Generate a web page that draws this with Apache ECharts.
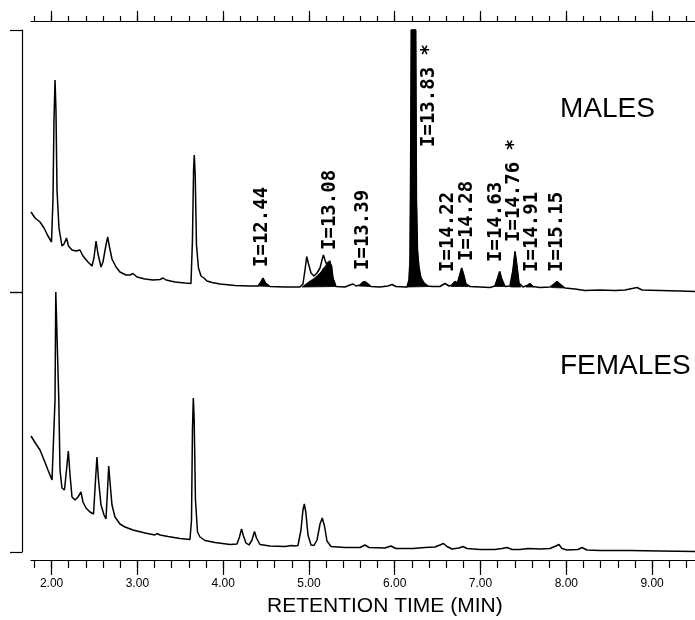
<!DOCTYPE html>
<html>
<head>
<meta charset="utf-8">
<script src="https://cdn.jsdelivr.net/npm/echarts@6/dist/echarts.min.js"></script>
<style>html,body{margin:0;padding:0;background:#fff;}#chart{width:695px;height:620px;}</style>
</head>
<body>
<div id="chart"></div>
<script>
// ---- data (retention time in min, detector response in arbitrary units) ----
const majorTicks = [2, 3, 4, 5, 6, 7, 8, 9];
const minorTicks = [1.8, 2.0, 2.2, 2.4, 2.6, 2.8, 3.0, 3.2, 3.4, 3.6, 3.8, 4.0, 4.2, 4.4, 4.6, 4.8, 5.0, 5.2, 5.4, 5.6, 5.8, 6.0, 6.2, 6.4, 6.6, 6.8, 7.0, 7.2, 7.4, 7.6, 7.8, 8.0, 8.2, 8.4, 8.6, 8.8, 9.0, 9.2, 9.4];

const maleTime = [1.760,1.807,1.865,1.912,1.958,1.999,2.016,2.028,2.040,2.051,2.063,2.086,2.121,2.145,2.174,2.197,2.238,2.285,2.331,2.366,2.424,2.471,2.494,2.518,2.541,2.576,2.599,2.634,2.654,2.675,2.704,2.751,2.797,2.867,2.914,2.949,2.996,3.089,3.182,3.264,3.299,3.334,3.438,3.555,3.625,3.642,3.655,3.663,3.674,3.689,3.712,3.742,3.776,3.811,3.870,3.963,4.138,4.313,4.406,4.441,4.464,4.493,4.546,4.721,4.895,4.930,4.954,4.974,4.995,5.024,5.059,5.094,5.129,5.152,5.169,5.187,5.204,5.228,5.245,5.263,5.280,5.315,5.420,5.478,5.513,5.548,5.595,5.630,5.653,5.676,5.723,5.828,5.921,5.968,6.014,6.119,6.143,6.166,6.178,6.183,6.189,6.193,6.244,6.248,6.253,6.265,6.283,6.306,6.341,6.387,6.434,6.527,6.586,6.632,6.667,6.702,6.731,6.755,6.780,6.801,6.830,6.877,6.994,7.110,7.168,7.203,7.223,7.244,7.285,7.343,7.378,7.402,7.425,7.448,7.495,7.541,7.576,7.611,7.693,7.809,7.856,7.891,7.926,7.984,8.101,8.217,8.392,8.567,8.684,8.824,8.882,9.092,9.325,9.500];
const maleSignal = [80,74,70,64,56,50,92,172,212,182,102,64,46,48,54,46,42,41,42,36,30,26,34,51,38,25,30,47,55,45,33,25,20,17,17,18.5,15,13,12,12.5,14,12,10,9,8.5,52,122,137,117,47,24,16,14,11,9.5,8,6.5,6,6,10,14,9,5.5,5,5,8,22,35.5,28,19,16,19,24,32,37,32,28,30,31.5,26,14,5.5,5,7,8,6,7,10,11,9,5.5,5,6,7.5,5.5,5,5,12,32,92,192,262,262,192,92,42,24,14,9,6,5.5,5.5,8.5,6,7,10.5,9,16,24,18,8,5.5,5,4.5,6,15,20.5,14,5.5,6,22,40.5,26,9,5,6.5,8.5,5.5,4.5,5,8,10.5,8,4,3,1.5,2,1.5,2,4.5,2,1.5,1,0.5];

const femaleTime = [1.760,1.818,1.865,1.912,1.958,2.005,2.022,2.040,2.049,2.072,2.084,2.098,2.121,2.150,2.174,2.195,2.215,2.238,2.273,2.308,2.343,2.366,2.401,2.448,2.489,2.512,2.529,2.547,2.576,2.611,2.634,2.652,2.666,2.681,2.704,2.739,2.797,2.856,2.949,3.089,3.205,3.229,3.264,3.357,3.497,3.613,3.631,3.642,3.652,3.662,3.677,3.701,3.730,3.788,3.905,4.080,4.161,4.190,4.214,4.237,4.266,4.301,4.336,4.365,4.388,4.429,4.546,4.721,4.802,4.826,4.872,4.907,4.930,4.946,4.963,4.989,5.024,5.059,5.094,5.129,5.155,5.181,5.210,5.257,5.420,5.595,5.653,5.700,5.886,5.956,6.014,6.213,6.352,6.469,6.527,6.568,6.609,6.667,6.749,6.795,6.842,6.994,7.168,7.250,7.308,7.367,7.460,7.553,7.693,7.809,7.879,7.914,7.949,8.008,8.136,8.182,8.241,8.392,8.742,9.092,9.500];
const femaleSignal = [116,108,102,92,82,72,70,152,260,260,152,82,64,62,82,101,77,55,52,55,60,50,44,40,38,72,95,72,47,37,33,62,86,70,47,35,28,25,22,19,17,18.5,17,15.5,13.5,12.5,32,122,154,132,52,20,15,11.5,9.5,7.5,8,15,23,16,9,7,12,20.5,14,7.5,6,5.5,6.5,6,6.5,22,42,48,40,17,7,6.5,12,28,34,26,11,5.5,4.5,4.5,7,4.5,4,6,3.5,3.5,4.5,5,7,8.5,5.5,3,4,5.5,3.5,2.5,2.5,3.5,4.5,2.5,2.5,3.5,3,3.5,6,7.5,3.5,2,2.5,4.5,2,1.5,1.5,1,0.5];

// shaded (identified) peaks in the male trace: [time, signal] outlines closed along the baseline
const shadedPeaks = [
  [[4.406,6],[4.441,10],[4.464,14],[4.493,9],[4.534,5.5]],
  [[4.919,5],[4.965,8],[5.012,11],[5.059,13.5],[5.105,17],[5.140,20],[5.169,24],[5.193,26],[5.210,28.5],[5.228,30],[5.245,31.5],[5.263,26],[5.280,14],[5.315,5.5]],
  [[5.583,6],[5.618,8.5],[5.653,11],[5.676,9],[5.717,5.5]],
  [[6.143,5],[6.166,12],[6.178,32],[6.183,92],[6.189,192],[6.193,262],[6.244,262],[6.248,192],[6.253,92],[6.265,42],[6.283,24],[6.306,14],[6.341,9],[6.387,6],[6.411,5.5]],
  [[6.656,5.5],[6.679,8.5],[6.702,10.5],[6.731,9],[6.755,16],[6.780,24],[6.801,18],[6.830,8],[6.854,5.5]],
  [[7.168,5.5],[7.203,15],[7.223,20.5],[7.244,14],[7.273,5.5]],
  [[7.349,5],[7.378,22],[7.402,40.5],[7.425,26],[7.448,9],[7.471,5]],
  [[7.530,5],[7.553,7],[7.576,8.5],[7.600,6.5],[7.623,5]],
  [[7.821,4.5],[7.856,8],[7.891,10.5],[7.926,8],[7.973,4]]
];

// retention index annotations, anchored (text start) at [time, signal]
const peakLabels = ["I=12.44","I=13.08","I=13.39","I=13.83 *","I=14.22","I=14.28","I=14.63","I=14.76 *","I=14.91","I=15.15"];
const labelTime = [4.453,5.245,5.630,6.400,6.620,6.842,7.180,7.396,7.600,7.891];
const labelSignal = [25,42,22,145,20,31,30,50,20,20];

const panelNames = ["MALES", "FEMALES"];
const xTitle = "RETENTION TIME (MIN)";

// ---- build ----
const zip = (a, b) => a.map((v, i) => [v, b[i]]);
const black = '#000';
const axisLineStyle = { color: black, width: 1.2 };

function xAx(grid, pos, offset, ticks, len, withLine, withLabel) {
  return {
    gridIndex: grid, type: 'value', position: pos, offset: offset,
    min: 1.76, max: 9.5,
    axisLine: { show: withLine, onZero: false, lineStyle: axisLineStyle },
    axisTick: { show: true, inside: false, length: len, customValues: ticks, lineStyle: { color: black, width: 1.2 } },
    axisLabel: withLabel ? {
      show: true, customValues: majorTicks, margin: 18, color: black,
      fontFamily: 'Liberation Sans', fontSize: 12,
      formatter: v => Number(v).toFixed(2)
    } : { show: false },
    splitLine: { show: false }
  };
}
function yAx(grid, max) {
  return {
    gridIndex: grid, type: 'value', position: 'left', offset: 9, min: 0, max: max,
    axisLine: { show: true, onZero: false, lineStyle: axisLineStyle },
    axisTick: { show: true, inside: false, length: 12, customValues: [0, max], lineStyle: { color: black, width: 1.2 } },
    axisLabel: { show: false }, splitLine: { show: false }
  };
}

const option = {
  animation: false,
  backgroundColor: '#fff',
  grid: [
    { left: 31, right: 0, top: 30, height: 262 },
    { left: 31, right: 0, top: 292, height: 260 }
  ],
  xAxis: [
    xAx(0, 'top', 9, minorTicks, 5, true, false),
    xAx(0, 'top', 9, majorTicks, 10, false, false),
    xAx(1, 'bottom', 8, minorTicks, 8, true, false),
    xAx(1, 'bottom', 8, majorTicks, 15, false, true)
  ],
  yAxis: [ yAx(0, 262), yAx(1, 260) ],
  graphic: [
    { type: 'text', x: 560, y: 109, style: { text: panelNames[0], font: '28px "Liberation Sans"', fill: black, verticalAlign: 'middle' } },
    { type: 'text', x: 560, y: 366, style: { text: panelNames[1], font: '28px "Liberation Sans"', fill: black, verticalAlign: 'middle' } },
    { type: 'text', x: 267, y: 606, style: { text: xTitle, font: '21px "Liberation Sans"', fill: black, verticalAlign: 'middle' } }
  ],
  series: [
    {
      type: 'custom', xAxisIndex: 0, yAxisIndex: 0, z: 2,
      data: shadedPeaks.map((p, i) => [p[0][0], p[0][1], i]),
      encode: { x: 0, y: 1 },
      renderItem: (params, api) => {
        const pts = shadedPeaks[params.dataIndex].map(pt => api.coord(pt));
        return { type: 'polygon', shape: { points: pts }, style: { fill: black, stroke: black, lineWidth: 0.8 } };
      }
    },
    {
      type: 'line', xAxisIndex: 0, yAxisIndex: 0, z: 3,
      data: zip(maleTime, maleSignal), showSymbol: false, symbol: 'none',
      lineStyle: { color: black, width: 1.5 }, clip: false
    },
    {
      type: 'line', xAxisIndex: 2, yAxisIndex: 1, z: 3,
      data: zip(femaleTime, femaleSignal), showSymbol: false, symbol: 'none',
      lineStyle: { color: black, width: 1.5 }, clip: false
    },
    {
      type: 'custom', xAxisIndex: 0, yAxisIndex: 0, z: 4,
      data: labelTime.map((t, i) => [t, labelSignal[i], i]),
      encode: { x: 0, y: 1 },
      renderItem: (params, api) => {
        const p = api.coord([api.value(0), api.value(1)]);
        return {
          type: 'text', x: p[0], y: p[1], rotation: Math.PI / 2,
          style: { text: peakLabels[params.dataIndex], font: 'bold 19px "DejaVu Sans Mono"', fill: black, align: 'left', verticalAlign: 'middle' }
        };
      }
    }
  ]
};

const chart = echarts.init(document.getElementById('chart'), null, { renderer: 'canvas' });
chart.setOption(option);
</script>
</body>
</html>
